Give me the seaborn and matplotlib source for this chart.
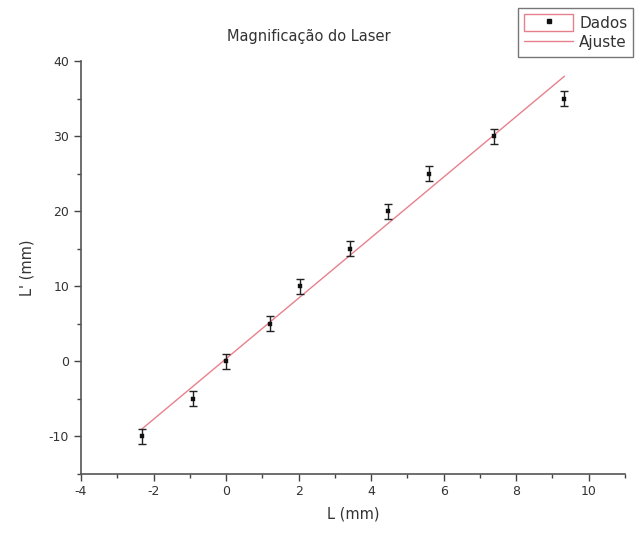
import numpy as np
import pandas as pd
import matplotlib
matplotlib.use("Agg")
import matplotlib.pyplot as plt
import seaborn as sns
from matplotlib.patches import Rectangle
from matplotlib.lines import Line2D
from matplotlib.ticker import MultipleLocator
from matplotlib.legend_handler import HandlerTuple

L_mm = [-2.33, -0.9, 0.0, 1.2, 2.03, 3.43, 4.47, 5.6, 7.38, 9.33]
Lp_mm = [-10, -5, 0, 5, 10, 15, 20, 25, 30, 35]
Lp_err = [1, 1, 1, 1, 1, 1, 1, 1, 1, 1]

title = "Magnificação do Laser"
xlabel = "L (mm)"
ylabel = "L' (mm)"

sns.set_theme(style="ticks")
plt.rcParams['font.family'] = ['DejaVu Sans']
plt.rcParams['axes.unicode_minus'] = False

df = pd.DataFrame({"L": L_mm, "Lp": Lp_mm, "err": Lp_err})
slope, intercept = np.polyfit(df["L"], df["Lp"], 1)
fit_x = np.array([min(L_mm), max(L_mm)])
fit_df = pd.DataFrame({"L": fit_x, "Lp": slope * fit_x + intercept})

fig = plt.figure(figsize=(6.42, 5.43), dpi=100)
ax = fig.add_axes([81/642, 1 - 473.5/543, (625-81)/642, (473.5-61)/543])

line_col = "#e8808c"
sns.lineplot(data=fit_df, x="L", y="Lp", ax=ax, color=line_col, lw=1.0)
ax.errorbar(df["L"], df["Lp"], yerr=df["err"], fmt="none", ecolor="#222222",
            elinewidth=1.0, capsize=3, capthick=1.0)
sns.scatterplot(data=df, x="L", y="Lp", ax=ax, marker="s", s=12, color="#111111",
                edgecolor="#111111", zorder=5)

ax.set_xlim(-4, 11)
ax.set_ylim(-15, 40)
ax.xaxis.set_major_locator(MultipleLocator(2))
ax.xaxis.set_minor_locator(MultipleLocator(1))
ax.yaxis.set_major_locator(MultipleLocator(10))
ax.yaxis.set_minor_locator(MultipleLocator(5))
ax.tick_params(which="major", length=5, width=1, color="#444444", labelsize=9,
               labelcolor="#333333", direction="out")
ax.tick_params(which="minor", length=3, width=1, color="#444444", direction="out")
for s in ["top", "right"]:
    ax.spines[s].set_visible(False)
for s in ["left", "bottom"]:
    ax.spines[s].set_color("#555555")
    ax.spines[s].set_linewidth(1.2)

ax.set_xlabel(xlabel, fontsize=10.5, color="#333333", labelpad=6)
ax.set_ylabel(ylabel, fontsize=10.5, color="#333333", labelpad=10)
fig.text(309/642, 1 - 37/543, title, ha="center", va="center", fontsize=10.5,
         color="#333333")

h_data = (Rectangle((0, 0), 1, 1, facecolor="none", edgecolor=line_col, lw=1),
          Line2D([], [], marker="s", ms=2.5, color="#111111", ls="none"))
h_fit = Line2D([], [], color=line_col, lw=1)
leg = fig.legend([h_data, h_fit], ["Dados", "Ajuste"], loc="upper left",
                 bbox_to_anchor=(518/642, 1 - 8/543), fancybox=False,
                 frameon=True, fontsize=11, handlelength=3.2, handleheight=1.3,
                 handletextpad=0.4, borderpad=0.4, labelspacing=0.2,
                 borderaxespad=0,
                 handler_map={tuple: HandlerTuple(ndivide=1)})
leg.get_frame().set_edgecolor("#555555")
leg.get_frame().set_linewidth(1.0)
for t in leg.get_texts():
    t.set_color("#333333")

fig.savefig("out.png", dpi=100)
